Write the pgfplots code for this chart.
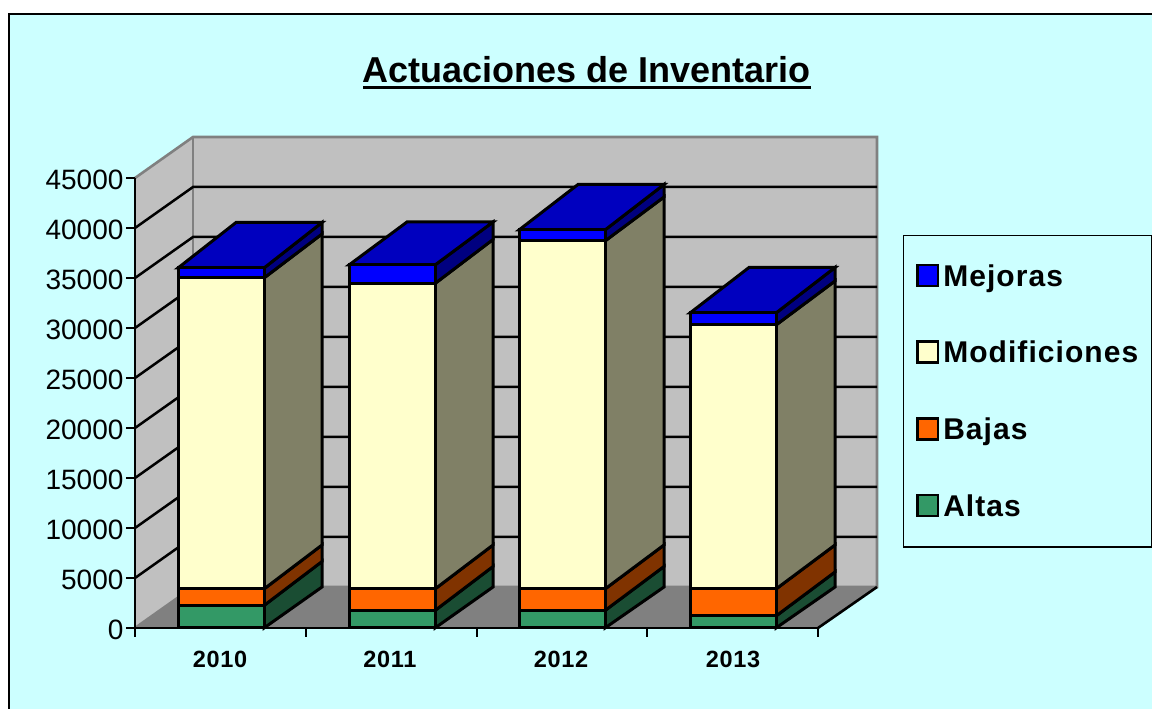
\documentclass[border=0pt]{standalone}
\usepackage{fontspec}
\setmainfont{Liberation Sans}
\newfontfamily\lsfont[LetterSpace=3.5]{Liberation Sans}
\newfontfamily\lsxfont[LetterSpace=3]{Liberation Sans}
\usepackage{pgfplots}
\pgfplotsset{compat=1.18}
\definecolor{bgc}{HTML}{CCFFFF}
\definecolor{wall}{HTML}{C0C0C0}
\definecolor{floorc}{HTML}{808080}
\definecolor{altas}{HTML}{339966}
\definecolor{altasS}{HTML}{1A4D33}
\definecolor{bajas}{HTML}{FF6600}
\definecolor{bajasS}{HTML}{803300}
\definecolor{modif}{HTML}{FFFFCC}
\definecolor{modifS}{HTML}{808066}
\definecolor{mej}{HTML}{0000FF}
\definecolor{mejS}{HTML}{000080}
\definecolor{mejT}{HTML}{0000BF}
\pgfplotsset{
  base/.style={scale only axis,width=683pt,height=450pt,xmin=135,xmax=818,ymin=0,ymax=45000,clip=false,at={(135pt,81pt)},anchor=origin},
  face/.style={fill=#1,draw=black,line width=3pt,line join=miter},
}
\begin{document}
\begin{tikzpicture}[x=1pt,y=1pt]
\path[use as bounding box] (0,0) rectangle (1152,709);
\fill[white] (0,0) rectangle (1152,709);
\fill[bgc] (9,0) rectangle (1152,695);
\draw[black,line width=2.5pt] (9,0) -- (9,695) -- (1152,695);
% title
\node[anchor=base,inner sep=0pt,font=\fontsize{36}{40}\selectfont\bfseries] at (586.5,626.5) {Actuaciones de Inventario};
\draw[black,line width=3pt] (363,621) -- (811,621);
% walls, floor and side faces
\begin{axis}[base,
  axis x line=bottom,axis y line=left,axis line style={-,line width=2.6pt,black},
  axis on top=true,
  xtick={135,306,477,647,818},xticklabels={},
  ytick={0,5000,...,45000},
  tick style={black,line width=2.6pt},tickwidth=9pt,tick align=outside,
  /pgf/number format/.cd,set thousands separator={},assume math mode=true,
  /tikz/.cd,
  yticklabel style={font=\fontsize{28}{30}\selectfont,xshift=1pt,yshift=-1.5pt},
  scaled y ticks=false,
]
\addplot[fill=wall,draw=none] coordinates {(135,0)(193,4100)(193,49100)(135,45000)} -- cycle;
\addplot[fill=wall,draw=none] coordinates {(193,4100)(877,4100)(877,49100)(193,49100)} -- cycle;
\addplot[fill=floorc,draw=none] coordinates {(135,0)(818,0)(877,4100)(193,4100)} -- cycle;
% wall edges
\addplot[draw=floorc,line width=2.6pt] coordinates {(135,45000)(193,49100)(877,49100)(877,4100)(193,4100)(135,0)};
\addplot[draw=floorc,line width=2.6pt] coordinates {(193,4100)(193,49100)};
\addplot[draw=black,line width=2.6pt] coordinates {(818,0)(877,4100)};
% gridlines
\addplot[draw=black,line width=2.5pt] coordinates {(135,5000)(193,9100)(877,9100)};
\addplot[draw=black,line width=2.5pt] coordinates {(135,10000)(193,14100)(877,14100)};
\addplot[draw=black,line width=2.5pt] coordinates {(135,15000)(193,19100)(877,19100)};
\addplot[draw=black,line width=2.5pt] coordinates {(135,20000)(193,24100)(877,24100)};
\addplot[draw=black,line width=2.5pt] coordinates {(135,25000)(193,29100)(877,29100)};
\addplot[draw=black,line width=2.5pt] coordinates {(135,30000)(193,34100)(877,34100)};
\addplot[draw=black,line width=2.5pt] coordinates {(135,35000)(193,39100)(877,39100)};
\addplot[draw=black,line width=2.5pt] coordinates {(135,40000)(193,44100)(877,44100)};
% 2010
\addplot[face=altasS] coordinates {(264,0)(322,4100)(322,6650)(264,2250)} -- cycle;
\addplot[face=bajasS] coordinates {(264,2250)(322,6650)(322,8300)(264,3900)} -- cycle;
\addplot[face=modifS] coordinates {(264,3900)(322,8300)(322,39400)(264,35000)} -- cycle;
\addplot[face=mejS] coordinates {(264,35000)(322,39400)(322,40550)(264,36000)} -- cycle;
\addplot[face=mejT] coordinates {(178,36000)(264,36000)(322,40550)(236,40550)} -- cycle;
% 2011
\addplot[face=altasS] coordinates {(435,0)(493,4100)(493,6150)(435,1750)} -- cycle;
\addplot[face=bajasS] coordinates {(435,1750)(493,6150)(493,8300)(435,3900)} -- cycle;
\addplot[face=modifS] coordinates {(435,3900)(493,8300)(493,38850)(435,34450)} -- cycle;
\addplot[face=mejS] coordinates {(435,34450)(493,38850)(493,40600)(435,36300)} -- cycle;
\addplot[face=mejT] coordinates {(349,36300)(435,36300)(493,40600)(407,40600)} -- cycle;
% 2012
\addplot[face=altasS] coordinates {(605,0)(664,4100)(664,6150)(605,1750)} -- cycle;
\addplot[face=bajasS] coordinates {(605,1750)(664,6150)(664,8300)(605,3900)} -- cycle;
\addplot[face=modifS] coordinates {(605,3900)(664,8300)(664,43100)(605,38700)} -- cycle;
\addplot[face=mejS] coordinates {(605,38700)(664,43100)(664,44350)(605,39800)} -- cycle;
\addplot[face=mejT] coordinates {(519,39800)(605,39800)(664,44350)(578,44350)} -- cycle;
% 2013
\addplot[face=altasS] coordinates {(776,0)(835,4100)(835,5600)(776,1200)} -- cycle;
\addplot[face=bajasS] coordinates {(776,1200)(835,5600)(835,8300)(776,3900)} -- cycle;
\addplot[face=modifS] coordinates {(776,3900)(835,8300)(835,34700)(776,30300)} -- cycle;
\addplot[face=mejS] coordinates {(776,30300)(835,34700)(835,36050)(776,31500)} -- cycle;
\addplot[face=mejT] coordinates {(690,31500)(776,31500)(835,36050)(749,36050)} -- cycle;
\end{axis}
% front faces and legend
\begin{axis}[base,
  ybar stacked,bar width=86pt,
  axis line style={draw=none},
  ytick=\empty,
  xtick={220,390,561,733},
  xticklabels={2010,2011,2012,2013},
  major tick length=0pt,
  x tick style={draw=none},
  xticklabel style={font=\lsxfont\fontsize{23.5}{25}\selectfont\bfseries,yshift=-19.5pt},
  reverse legend,
  legend cell align=left,
  legend image code/.code={\draw[#1,line width=2.4pt] (0pt,-9.8pt) rectangle (20.5pt,11.2pt);},
  legend style={at={(axis cs:902.8,39300)},anchor=north west,draw=black,line width=1.2pt,fill=bgc,
    font=\lsfont\fontsize{30}{32}\selectfont\bfseries,
    inner xsep=13pt,inner ysep=26.5pt,row sep=48.8pt,
    nodes={text height=24pt,text depth=4pt,inner sep=0pt},
    /tikz/every odd column/.append style={column sep=4pt},
  },
]
\addplot[face=altas] coordinates {(221,2250)(392,1750)(562,1750)(733,1200)};
\addplot[face=bajas] coordinates {(221,1650)(392,2150)(562,2150)(733,2700)};
\addplot[face=modif] coordinates {(221,31100)(392,30550)(562,34800)(733,26400)};
\addplot[face=mej] coordinates {(221,1000)(392,1850)(562,1100)(733,1200)};
\legend{Altas,Bajas,Modificiones,Mejoras}
\end{axis}
\end{tikzpicture}
\end{document}
